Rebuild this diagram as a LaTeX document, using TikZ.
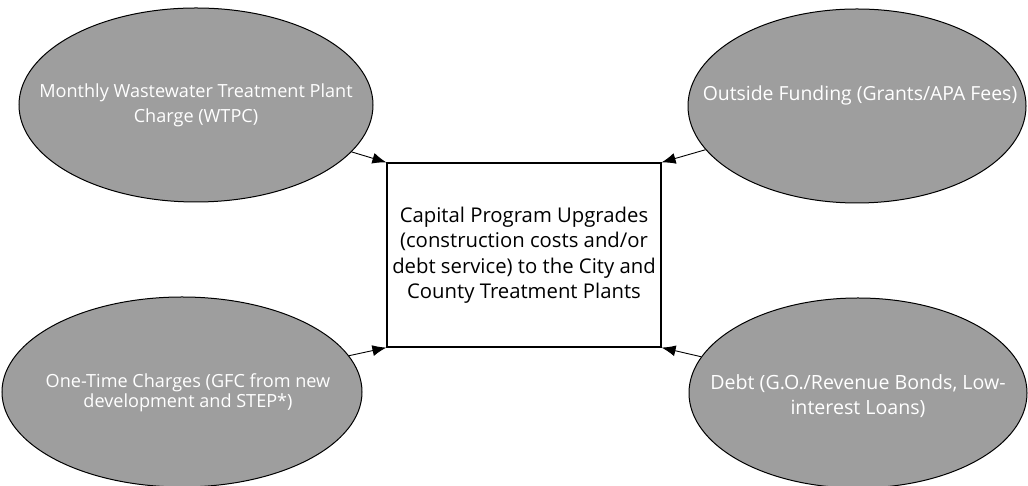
\documentclass[tikz,border=0pt]{standalone}
\usepackage{fontspec}
\setmainfont{Open Sans}
\usetikzlibrary{shapes.geometric,arrows.meta}
\begin{document}
\begin{tikzpicture}[x=1pt,y=1pt,
  src/.style={ellipse, draw=black, line width=1pt, fill=black!38, inner sep=0pt},
  srctext/.style={text=white, align=center, inner sep=0pt, font=\fontsize{17.5}{28}\selectfont},
  target/.style={rectangle, draw=black, line width=1.2pt, fill=white, inner sep=0pt,
    minimum width=274pt, minimum height=184pt, align=center,
    font=\fontsize{20.3}{25.5}\selectfont},
  feed/.style={draw=black, line width=0.9pt, -{Latex[length=14pt,width=11pt]}}]
\useasboundingbox (0,0) rectangle (1028,486);
\node[target] (box) at (524,231) {Capital Program Upgrades\\(construction costs and/or\\debt service) to the City and\\County Treatment Plants};
\node[src, minimum width=354pt, minimum height=194pt] (tl) at (196,381) {};
\node[src, minimum width=338pt, minimum height=194pt] (tr) at (857,380) {};
\node[src, minimum width=360pt, minimum height=190pt] (bl) at (182,94) {};
\node[src, minimum width=338pt, minimum height=190pt] (br) at (858,93) {};
\node[srctext, font=\fontsize{18.1}{25}\selectfont] (tltext) at (196,381) {Monthly Wastewater Treatment Plant\\Charge (WTPC)};
\node[srctext, font=\fontsize{19.4}{28}\selectfont] (trtext) at (860,391) {Outside Funding (Grants/APA Fees)};
\node[srctext, font=\fontsize{18.1}{20.5}\selectfont] (bltext) at (188,93) {One-Time Charges (GFC from new\\development and STEP*)};
\node[srctext, font=\fontsize{19.6}{25.5}\selectfont] (brtext) at (858,90) {Debt (G.O./Revenue Bonds, Low-\\interest Loans)};
\draw[feed] (tl) -- (box.north west);
\draw[feed] (tr) -- (box.north east);
\draw[feed] (bl) -- (box.south west);
\draw[feed] (br) -- (box.south east);
\end{tikzpicture}
\end{document}
